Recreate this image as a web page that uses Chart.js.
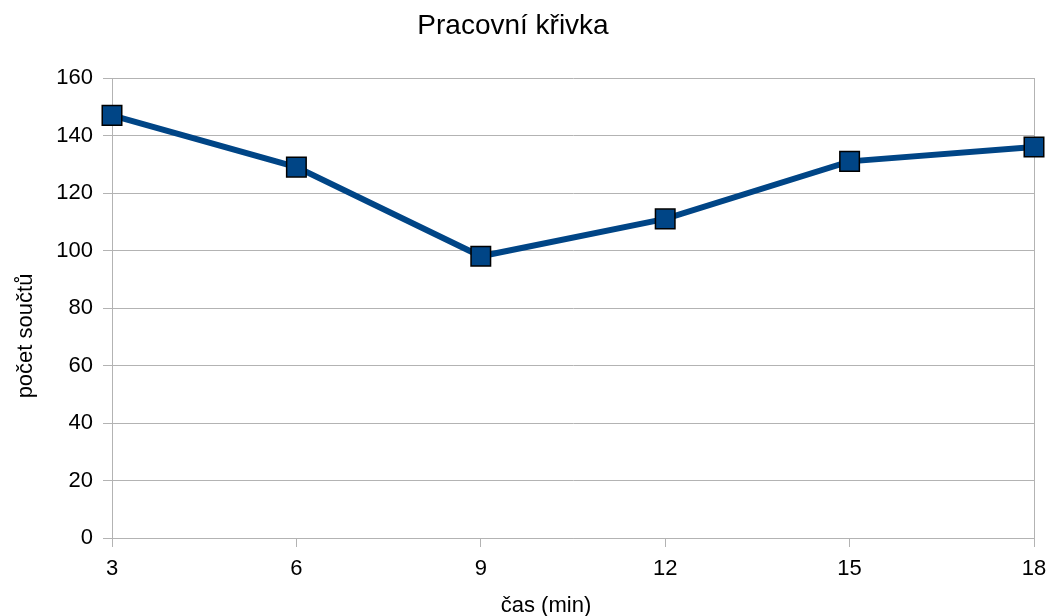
<!DOCTYPE html>
<html lang="cs">
<head>
<meta charset="utf-8">
<title>Pracovní křivka</title>
<script src="https://cdn.jsdelivr.net/npm/chart.js@4/dist/chart.umd.min.js"></script>
<style>
  html, body { margin: 0; padding: 0; background: #ffffff; }
  #wrap { width: 1051px; height: 616px; position: relative; }
</style>
</head>
<body>
<div id="wrap"><canvas id="chart" width="1051" height="616"></canvas></div>
<script>
// Texts
const chartTitle = 'Pracovní křivka';
const xAxisTitle = 'čas (min)';
const yAxisTitle = 'počet součtů';

// Data: time in minutes and number of sums
const timeMinutes = ['3', '6', '9', '12', '15', '18'];
const sumCounts = [147, 129, 98, 111, 131, 136];

// Value axis ticks
const yMin = 0;
const yMax = 160;
const yStep = 20;

const FONT = '"Liberation Sans", Arial, sans-serif';
const GRID = '#b3b3b3';
const SERIES = '#004586';

// Draws the chart title and the two axis titles
const titlesPlugin = {
  id: 'titles',
  afterDraw(chart) {
    const ctx = chart.ctx;
    ctx.save();
    ctx.fillStyle = '#000000';
    ctx.textBaseline = 'alphabetic';
    ctx.textAlign = 'center';

    ctx.font = '28px ' + FONT;
    ctx.fillText(chartTitle, 513, 34);

    ctx.font = '22px ' + FONT;
    ctx.fillText(xAxisTitle, 546, 612);

    ctx.translate(32, 336);
    ctx.rotate(-Math.PI / 2);
    ctx.fillText(yAxisTitle, 0, 0);
    ctx.restore();
  }
};

new Chart(document.getElementById('chart'), {
  type: 'line',
  data: {
    labels: timeMinutes,
    datasets: [{
      data: sumCounts,
      borderColor: SERIES,
      borderWidth: 6,
      backgroundColor: SERIES,
      pointStyle: 'rect',
      pointRadius: 13.8,
      pointHoverRadius: 13.8,
      pointBackgroundColor: SERIES,
      pointBorderColor: '#000000',
      pointBorderWidth: 1.5,
      tension: 0,
      fill: false,
      clip: false
    }]
  },
  options: {
    responsive: false,
    animation: false,
    events: [],
    layout: { padding: { top: 78, right: 17, bottom: 0, left: 0 } },
    plugins: {
      legend: { display: false },
      title: { display: false },
      tooltip: { enabled: false }
    },
    scales: {
      x: {
        type: 'category',
        offset: false,
        border: { display: true, color: GRID, width: 1 },
        grid: {
          color: (c) => (c.index === timeMinutes.length - 1 ? GRID : 'rgba(0,0,0,0)'),
          tickColor: GRID,
          tickLength: 9,
          lineWidth: 1,
          drawOnChartArea: true
        },
        ticks: {
          color: '#000000',
          font: { family: FONT, size: 22 },
          padding: 9,
          maxRotation: 0,
          autoSkip: false
        },
        afterFit(scale) {
          scale.height = 78;
          scale.paddingLeft = 0;
          scale.paddingRight = 0;
        }
      },
      y: {
        min: yMin,
        max: yMax,
        border: { display: true, color: GRID, width: 1 },
        grid: {
          color: GRID,
          tickColor: GRID,
          tickLength: 9,
          lineWidth: 1
        },
        ticks: {
          stepSize: yStep,
          color: '#000000',
          font: { family: FONT, size: 22 },
          padding: 10
        },
        afterFit(scale) { scale.width = 112; }
      }
    }
  },
  plugins: [titlesPlugin]
});
</script>
</body>
</html>
